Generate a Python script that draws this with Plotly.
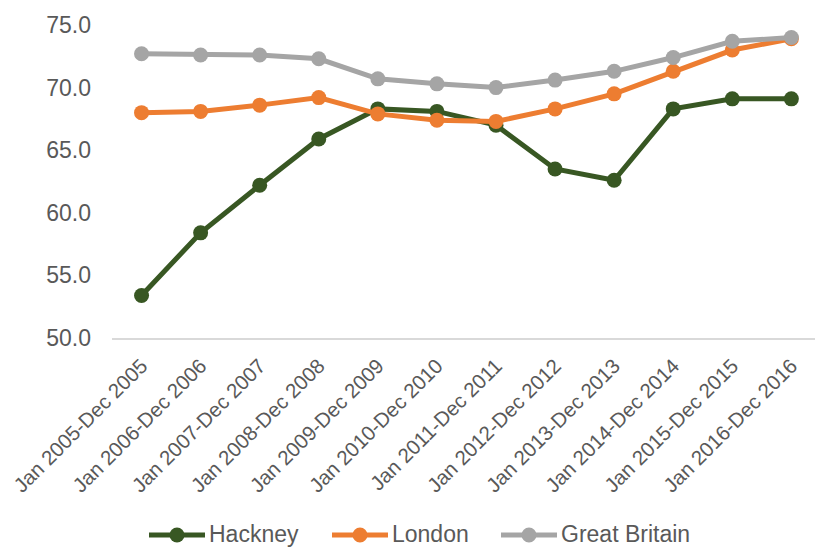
import plotly.graph_objects as go

# Employment rate (%) by calendar year period
periods = [
    "Jan 2005-Dec 2005", "Jan 2006-Dec 2006", "Jan 2007-Dec 2007",
    "Jan 2008-Dec 2008", "Jan 2009-Dec 2009", "Jan 2010-Dec 2010",
    "Jan 2011-Dec 2011", "Jan 2012-Dec 2012", "Jan 2013-Dec 2013",
    "Jan 2014-Dec 2014", "Jan 2015-Dec 2015", "Jan 2016-Dec 2016",
]
hackney = [53.4, 58.4, 62.2, 65.9, 68.3, 68.1, 67.0, 63.5, 62.6, 68.3, 69.1, 69.1]
london = [68.0, 68.1, 68.6, 69.2, 67.9, 67.4, 67.3, 68.3, 69.5, 71.3, 73.0, 73.9]
great_britain = [72.7, 72.6, 72.6, 72.3, 70.7, 70.3, 70.0, 70.6, 71.3, 72.4, 73.7, 74.0]

y_ticks = [50, 55, 60, 65, 70, 75]

series = [
    ("Hackney", hackney, "#385723"),
    ("London", london, "#ED7D31"),
    ("Great Britain", great_britain, "#A5A5A5"),
]

FONT = "Liberation Sans, Arial, sans-serif"
TEXT = "#595959"

W, H = 815, 547
M_L, M_R, M_T, M_B = 112, 0, 25, 209
PLOT_W = W - M_L - M_R
PLOT_H = H - M_T - M_B


def px_to_paper(x_px, y_px):
    return (x_px - M_L) / PLOT_W, (H - M_B - y_px) / PLOT_H


fig = go.Figure()
for name, values, color in series:
    fig.add_trace(go.Scatter(
        x=list(range(len(periods))),
        y=values,
        name=name,
        mode="lines+markers",
        line=dict(color=color, width=5),
        marker=dict(color=color, size=15),
        cliponaxis=False,
        showlegend=False,
    ))

# Legend drawn below the chart: long line swatch with a dot, then the label
legend_starts = [149, 332, 501]  # left edge of each swatch, px
SWATCH = 56
LEGEND_Y = 535
shapes, annotations = [], []
for (name, _, color), x0 in zip(series, legend_starts):
    lx0, ly = px_to_paper(x0, LEGEND_Y)
    lx1, _ = px_to_paper(x0 + SWATCH, LEGEND_Y)
    cx, _ = px_to_paper(x0 + SWATCH / 2, LEGEND_Y)
    shapes.append(dict(type="line", xref="paper", yref="paper",
                       x0=lx0, x1=lx1, y0=ly, y1=ly,
                       line=dict(color=color, width=5)))
    shapes.append(dict(type="circle", xref="paper", yref="paper",
                       xsizemode="pixel", ysizemode="pixel",
                       xanchor=cx, yanchor=ly,
                       x0=-7.5, x1=7.5, y0=-7.5, y1=7.5,
                       fillcolor=color, line=dict(width=0)))
    tx, ty = px_to_paper(x0 + SWATCH + 2, LEGEND_Y - 1)
    annotations.append(dict(xref="paper", yref="paper", x=tx, y=ty,
                            xanchor="left", yanchor="middle", showarrow=False,
                            text=name,
                            font=dict(family=FONT, size=23, color=TEXT)))

fig.update_layout(
    width=W,
    height=H,
    margin=dict(l=M_L, r=M_R, t=M_T, b=M_B),
    paper_bgcolor="white",
    plot_bgcolor="white",
    font=dict(family=FONT, color=TEXT),
    showlegend=False,
    shapes=shapes,
    annotations=annotations,
    xaxis=dict(
        tickmode="array",
        tickvals=list(range(len(periods))),
        ticktext=periods,
        range=[-0.5, 11.4],
        tickangle=-45,
        tickfont=dict(family=FONT, size=20.5, color=TEXT),
        showgrid=False,
        zeroline=False,
        showline=True,
        linecolor="#D9D9D9",
        linewidth=1.5,
        ticks="",
        ticklabelstandoff=6,
        automargin=False,
    ),
    yaxis=dict(
        range=[50, 75],
        tickmode="array",
        tickvals=y_ticks,
        ticktext=[f"{v:.1f}" for v in y_ticks],
        tickfont=dict(family=FONT, size=23, color=TEXT),
        showgrid=False,
        zeroline=False,
        showline=False,
        ticks="",
        ticklabelstandoff=20,
        automargin=False,
    ),
)

fig.write_html("out.html")
